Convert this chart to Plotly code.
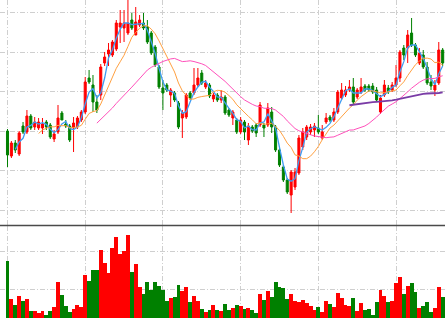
import plotly.graph_objects as go
import pandas as pd

# ---- data ----
days = list(range(113))

opens = [11.9, 9.4, 10.7, 9.6, 12.4, 11.8, 13.4, 12.3, 12.2, 12.2,
         12.8, 12.5, 11.1, 11.8, 13.7, 12.6, 12.4, 12.2, 12.3, 13.0,
         13.8, 17.2, 16.5, 14.8, 15.5, 18.7, 19.6, 19.5, 20.1, 22.3,
         22.2, 21.7, 23.0, 21.5, 22.5, 22.7, 22.3, 21.7, 20.3, 18.3,
         16.2, 16.5, 15.5, 15.7, 14.7, 13.2, 13.3, 15.7, 15.7, 16.5,
         17.7, 16.3, 16.5, 15.1, 15.5, 15.0, 15.3, 14.0, 13.2, 13.0,
         11.8, 12.8, 11.0, 12.3, 12.5, 12.5, 12.5, 12.5, 13.8, 12.3,
         10.0, 8.3, 7.0, 5.5, 6.3, 7.7, 10.3, 11.3, 11.8, 12.0,
         12.2, 11.2, 12.8, 13.3, 13.0, 13.8, 15.2, 15.5, 16.0, 16.3,
         15.3, 15.8, 16.4, 16.4, 16.4, 16.0, 13.8, 15.5, 16.2, 16.0,
         16.5, 17.2, 20.2, 20.2, 21.7, 20.5, 18.7, 19.5, 18.3, 16.8,
         16.0, 16.7, 20.0]

highs = [12.1, 10.9, 11.0, 11.9, 12.8, 14.0, 13.6, 13.3, 13.2, 13.2,
         13.0, 12.7, 12.0, 14.5, 13.9, 13.0, 12.6, 13.3, 13.4, 14.0,
         17.3, 18.0, 17.5, 15.5, 18.6, 19.8, 20.7, 21.0, 23.0, 24.0,
         24.0, 25.2, 23.7, 24.3, 23.5, 23.7, 23.0, 21.9, 20.5, 18.5,
         17.0, 16.7, 16.2, 15.9, 14.9, 14.0, 15.7, 15.9, 18.2, 18.2,
         18.0, 17.0, 16.7, 15.7, 15.7, 16.0, 15.5, 14.2, 14.0, 13.2,
         13.3, 13.0, 12.7, 12.5, 12.7, 14.8, 12.7, 14.7, 14.3, 12.5,
         10.2, 8.5, 7.2, 8.0, 8.2, 11.5, 12.2, 12.5, 12.6, 12.7,
         13.5, 12.5, 13.7, 13.5, 14.2, 16.0, 16.7, 16.4, 17.0, 17.2,
         16.2, 17.2, 16.6, 16.6, 16.7, 16.3, 15.5, 17.0, 16.5, 16.8,
         18.5, 20.0, 20.5, 22.0, 23.2, 20.7, 20.2, 20.0, 18.8, 17.5,
         17.0, 20.8, 20.2]

lows = [8.3, 9.2, 9.7, 9.4, 11.6, 11.6, 12.0, 12.0, 12.0, 11.6,
        12.0, 11.1, 10.8, 11.6, 13.0, 12.2, 10.8, 9.8, 12.1, 12.8,
        13.6, 16.6, 13.8, 13.7, 15.0, 18.4, 18.4, 19.3, 19.9, 20.7,
        20.8, 21.5, 22.0, 21.5, 22.3, 22.0, 20.6, 19.5, 18.3, 16.1,
        14.0, 15.8, 14.3, 14.8, 12.1, 11.2, 13.1, 15.0, 15.5, 16.3,
        16.5, 16.1, 15.2, 14.8, 14.8, 14.7, 13.5, 13.3, 12.5, 11.6,
        11.6, 11.0, 10.5, 11.7, 11.3, 12.3, 11.3, 12.3, 11.7, 9.8,
        8.3, 6.8, 5.6, 3.7, 6.0, 7.5, 10.0, 11.0, 11.5, 11.3,
        11.6, 11.0, 12.6, 12.8, 12.8, 13.6, 15.0, 15.3, 15.8, 14.6,
        15.1, 15.6, 15.8, 15.8, 15.6, 14.8, 13.6, 15.3, 15.6, 15.8,
        16.3, 16.8, 19.0, 18.7, 20.3, 19.3, 18.5, 18.1, 16.5, 16.0,
        15.4, 16.5, 18.4]

closes = [9.5, 10.7, 10.0, 11.7, 11.8, 13.4, 12.2, 12.8, 12.8, 12.6,
          12.3, 11.3, 11.6, 13.2, 13.0, 12.4, 11.0, 12.7, 13.2, 13.8,
          16.8, 16.8, 14.8, 14.0, 18.3, 19.3, 20.0, 20.8, 22.7, 22.7,
          22.7, 22.7, 22.2, 22.8, 23.0, 22.2, 20.8, 19.7, 18.5, 16.3,
          15.7, 16.0, 16.0, 15.0, 12.3, 13.7, 15.5, 15.2, 16.5, 17.2,
          16.7, 16.7, 15.4, 15.5, 15.0, 15.3, 13.7, 13.5, 13.8, 11.8,
          13.0, 11.8, 12.4, 11.9, 11.7, 14.5, 12.2, 14.2, 12.3, 10.0,
          8.5, 7.0, 5.8, 7.8, 7.8, 11.2, 11.8, 12.3, 12.3, 12.4,
          11.8, 11.8, 13.2, 13.0, 13.8, 15.8, 16.0, 16.0, 16.3, 14.8,
          16.0, 16.3, 16.0, 16.0, 15.8, 15.0, 15.2, 16.5, 15.8, 16.5,
          17.2, 19.8, 19.5, 21.5, 20.5, 19.5, 19.7, 18.3, 16.7, 16.4,
          16.5, 20.0, 18.7]

volumes = [65.6, 28.3, 21.6, 30.6, 25.6, 28.0, 16.3, 16.3, 13.6, 16.0,
           12.0, 16.3, 20.3, 45.0, 32.0, 21.0, 15.0, 18.0, 22.0, 20.3,
           51.6, 46.3, 57.0, 57.3, 77.0, 64.0, 54.0, 79.0, 89.6, 73.3,
           75.6, 92.3, 55.3, 63.0, 39.6, 33.0, 44.6, 37.3, 45.0, 41.3,
           37.0, 26.0, 29.3, 29.6, 42.3, 35.6, 40.0, 24.6, 31.0, 25.6,
           18.3, 15.3, 16.6, 22.0, 17.3, 16.3, 23.0, 17.0, 19.0, 21.6,
           21.3, 17.6, 19.0, 17.0, 14.3, 33.3, 27.0, 36.0, 30.3, 45.3,
           39.6, 39.0, 28.0, 32.6, 25.6, 25.3, 27.3, 24.3, 21.3, 17.0,
           20.3, 15.3, 26.0, 22.6, 20.3, 33.6, 29.0, 22.3, 21.3, 29.3,
           16.3, 24.3, 17.0, 18.3, 12.3, 25.3, 37.3, 31.3, 24.6, 26.3,
           43.6, 50.3, 33.0, 41.3, 44.3, 35.3, 19.3, 21.3, 25.3, 15.0,
           19.0, 40.0, 29.6]

ma_windows = [3, 9, 24, 89]

# ---- styles ----
UP = "#ff0000"
DOWN = "#008000"
ma_colors = ["#3f9cf2", "#ffa040", "#ff50bb", "#7a3ca6"]
ma_widths = [1.3, 1, 1, 1.8]
GRID = "#cfcfcf"

close_s = pd.Series(closes, dtype=float)

fig = go.Figure()

fig.add_trace(go.Candlestick(
    x=days, open=opens, high=highs, low=lows, close=closes,
    increasing=dict(line=dict(color=UP, width=1), fillcolor=UP),
    decreasing=dict(line=dict(color=DOWN, width=1), fillcolor=DOWN),
    whiskerwidth=0, xaxis="x", yaxis="y", showlegend=False,
))

for w, c, lw in zip(ma_windows, ma_colors, ma_widths):
    ma = close_s.rolling(w).mean().round(3).tolist()
    ma = [None if pd.isna(v) else v for v in ma]
    fig.add_trace(go.Scatter(
        x=days, y=ma, mode="lines", line=dict(color=c, width=lw),
        connectgaps=False, xaxis="x", yaxis="y", showlegend=False,
        hoverinfo="skip",
    ))

vol_colors = [UP if c > o else DOWN for o, c in zip(opens, closes)]
fig.add_trace(go.Bar(
    x=days, y=volumes, marker=dict(color=vol_colors, line=dict(width=0)),
    xaxis="x2", yaxis="y2", showlegend=False,
))

split = 1 - 225.5 / 318

axis_common = dict(
    showgrid=True, gridcolor=GRID, gridwidth=1, griddash="5px,2px,1px,2px",
    zeroline=False, showticklabels=False, ticks="", showline=False,
)

fig.update_layout(
    width=445, height=318,
    margin=dict(l=0, r=0, t=0, b=0),
    paper_bgcolor="white", plot_bgcolor="white",
    bargap=0, boxgap=0.25,
    xaxis=dict(domain=[0, 1], range=[-1.93, 112.6], tick0=0, dtick=20,
               anchor="y", rangeslider=dict(visible=False), **axis_common),
    xaxis2=dict(domain=[0, 1], range=[-1.93, 112.6], tick0=0, dtick=20,
                anchor="y2", matches="x", **axis_common),
    yaxis=dict(domain=[split, 1], range=[2.45, 25.0], tick0=0, dtick=3.96,
               anchor="x", **axis_common),
    yaxis2=dict(domain=[0, split], range=[8.3, 100.8], tick0=0, dtick=37.3,
                anchor="x2", **axis_common),
    shapes=[dict(type="line", xref="paper", yref="paper", x0=0, x1=1,
                 y0=split, y1=split, line=dict(color="#4a4a4a", width=1.5))],
)

fig.write_html("out.html")
